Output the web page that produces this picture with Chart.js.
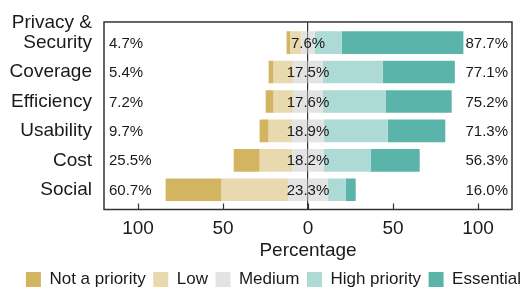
<!DOCTYPE html>
<html>
<head>
<meta charset="utf-8">
<script src="https://cdn.jsdelivr.net/npm/chart.js@4"></script>
<style>
    html, body { margin: 0; padding: 0; background: #fff; }
    #wrap { width: 527px; height: 289px; }
</style>
</head>
<body>
<div id="wrap"><canvas id="likertChart"></canvas></div>
<script>
// categories, top to bottom
const categories = [["Privacy &", "Security", ""], "Coverage", "Efficiency", "Usability", "Cost", "Social"];

// bar segment widths (percentage units)
const notPriority = [2.3, 2.9, 4.7, 5.3, 15.3, 32.9];
const low = [6.5, 11.5, 11.4, 13.7, 19.3, 39.2];
const medium = [7.6, 17.5, 17.6, 18.9, 18.2, 23.3];
const highPriority = [16.0, 35.2, 36.9, 37.4, 27.8, 10.5];
const essential = [71.6, 42.4, 38.8, 33.9, 28.8, 5.9];

// percentages printed in the chart
const leftLabels = [4.7, 5.4, 7.2, 9.7, 25.5, 60.7];
const midLabels = [7.6, 17.5, 17.6, 18.9, 18.2, 23.3];
const rightLabels = [87.7, 77.1, 75.2, 71.3, 56.3, 16.0];

const xTicks = [-100, -50, 0, 50, 100];

const FONT = "'Liberation Sans', Arial, Helvetica, sans-serif";
const INK = "#1a1a1a";

// legend order: Not a priority, Low, Medium, High, Essential
const legendRank = [2, 9, 1, 0, 3, 4];

// box round the plot + inward tick marks
const framePlugin = {
    id: "frame",
    afterDraw(chart) {
        const ctx = chart.ctx;
        const a = chart.chartArea;
        const xs = chart.scales.x;
        ctx.save();
        ctx.strokeStyle = "#333";
        ctx.lineWidth = 1.5;
        ctx.strokeRect(a.left, a.top, a.right - a.left, a.bottom - a.top);
        ctx.lineWidth = 1.2;
        ctx.beginPath();
        xTicks.forEach(v => {
            const px = Math.round(xs.getPixelForValue(v)) + 0.5;
            ctx.moveTo(px, a.bottom);
            ctx.lineTo(px, a.bottom - 6);
        });
        ctx.stroke();
        ctx.restore();
    }
};

// percentages on each row
const labelPlugin = {
    id: "rowLabels",
    afterDatasetsDraw(chart) {
        const ctx = chart.ctx;
        const a = chart.chartArea;
        const xs = chart.scales.x;
        const ys = chart.scales.y;
        ctx.save();
        ctx.font = "15px " + FONT;
        ctx.fillStyle = INK;
        ctx.textBaseline = "middle";
        for (let i = 0; i < categories.length; i++) {
            const y = ys.getPixelForValue(i) + 1;
            ctx.textAlign = "left";
            ctx.fillText(leftLabels[i].toFixed(1) + "%", a.left + 5, y);
            ctx.textAlign = "center";
            ctx.fillText(midLabels[i].toFixed(1) + "%", xs.getPixelForValue(0), y);
            ctx.textAlign = "right";
            ctx.fillText(rightLabels[i].toFixed(1) + "%", a.right - 4, y);
        }
        ctx.restore();
    }
};

function bar(label, data, color) {
    return {
        label: label,
        data: data,
        backgroundColor: color,
        borderWidth: 0,
        barPercentage: 1,
        categoryPercentage: 0.77
    };
}

const datasets = [
    bar("Medium", medium.map(v => -v / 2), "#e3e3e3"),
    bar("Medium", medium.map(v => v / 2), "#e3e3e3"),
    bar("Low", low.map(v => -v), "#e9d9af"),
    bar("Not a priority", notPriority.map(v => -v), "#d3b461"),
    bar("High priority", highPriority, "#aedad6"),
    bar("Essential", essential, "#5bb4a9")
];

new Chart(document.getElementById("likertChart"), {
    type: "bar",
    data: {
        labels: categories.map((c, i) => i),
        datasets: datasets
    },
    plugins: [framePlugin, labelPlugin],
    options: {
        indexAxis: "y",
        responsive: true,
        maintainAspectRatio: false,
        animation: false,
        layout: { padding: { left: 10, right: -10, top: 20, bottom: -9 } },
        plugins: {
            tooltip: { enabled: false },
            legend: {
                position: "bottom",
                labels: {
                    boxWidth: 15,
                    boxHeight: 15,
                    padding: 7.5,
                    color: INK,
                    font: { family: FONT, size: 17 },
                    filter: item => item.datasetIndex !== 1,
                    sort: (p, q) => legendRank[p.datasetIndex] - legendRank[q.datasetIndex]
                }
            }
        },
        scales: {
            x: {
                type: "linear",
                stacked: true,
                min: -120,
                max: 120,
                afterBuildTicks: axis => { axis.ticks = xTicks.map(v => ({ value: v })); },
                border: { display: false },
                grid: {
                    drawTicks: false,
                    color: c => (c.tick && c.tick.value === 0) ? "#333" : "rgba(0,0,0,0)",
                    lineWidth: 1.2
                },
                ticks: {
                    padding: 9.5,
                    color: INK,
                    font: { family: FONT, size: 19, lineHeight: 1 },
                    callback: v => Math.abs(v)
                },
                title: {
                    display: true,
                    text: "Percentage",
                    color: INK,
                    font: { family: FONT, size: 19, lineHeight: 1 },
                    padding: { top: -6, bottom: 3 }
                }
            },
            y: {
                type: "linear",
                stacked: true,
                reverse: true,
                offset: false,
                min: -0.7,
                max: 5.67,
                afterBuildTicks: axis => { axis.ticks = categories.map((c, i) => ({ value: i })); },
                afterFit: axis => { axis.width = 94; },
                border: { display: false },
                grid: { display: false, drawTicks: false },
                ticks: {
                    padding: 12,
                    autoSkip: false,
                    color: INK,
                    font: { family: FONT, size: 19, lineHeight: 1.05 },
                    callback: v => categories[v]
                }
            },
            // empty strip on the right of the plot
            yRight: {
                type: "linear",
                position: "right",
                afterFit: axis => { axis.width = 25; },
                border: { display: false },
                grid: { display: false, drawTicks: false },
                ticks: { display: false }
            }
        }
    }
});
</script>
</body>
</html>
